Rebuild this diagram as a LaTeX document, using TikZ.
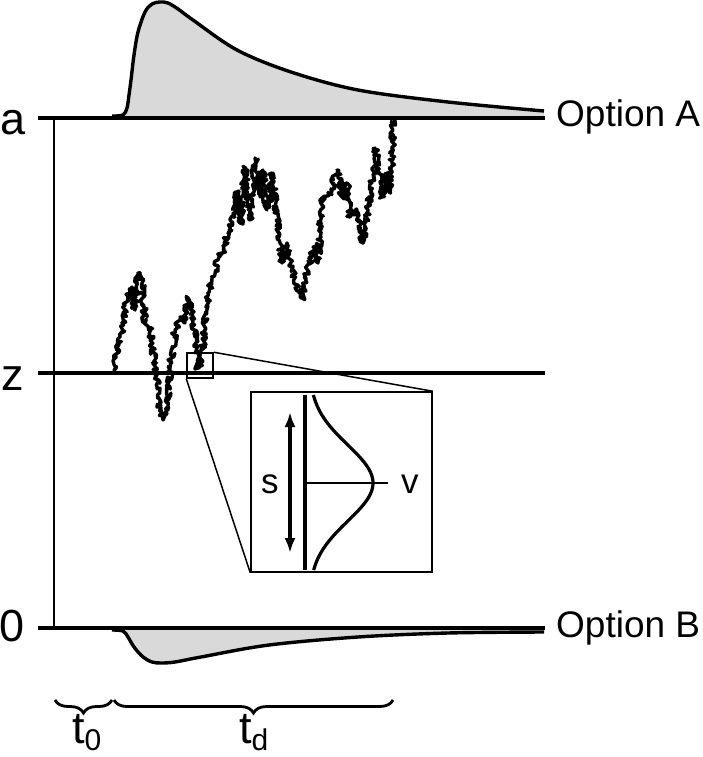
\documentclass[tikz,border=0pt]{standalone}
\usepackage{fontspec}
\setmainfont{Liberation Sans}
\usetikzlibrary{decorations.pathmorphing,decorations.pathreplacing,arrows.meta}
\begin{document}
\begin{tikzpicture}[x=1pt,y=-1pt,
  bound/.style={line width=3.4pt},
  axisv/.style={line width=2.3pt},
  dens/.style={line width=3.4pt, line join=round},
  densfill/.style={fill=gray!30},
  thinline/.style={line width=1.5pt},
  walk/.style={line width=3.4pt, line join=round, decorate,
    decoration={random steps, segment length=1.5pt, amplitude=3.2pt}},
  lbl/.style={font=\fontsize{45}{54}\selectfont, inner sep=0pt, anchor=base west},
  opt/.style={font=\fontsize{37}{44}\selectfont, inner sep=0pt, anchor=base west},
  small/.style={font=\fontsize{35}{42}\selectfont, inner sep=0pt, anchor=base west},
  bracestyle/.style={line width=2.8pt, decorate, decoration={brace, mirror, amplitude=13pt}},
  boxstyle/.style={draw, line width=1.5pt, inner sep=0pt}
]
\useasboundingbox (0,0) rectangle (702,757);
\pgfmathsetseed{11}

% coordinates
\coordinate (aL) at (38,118);
\coordinate (aR) at (545,118);
\coordinate (zL) at (38,373);
\coordinate (zR) at (545,373);
\coordinate (oL) at (38,628);
\coordinate (oR) at (545,628);
\coordinate (vT) at (54,118);
\coordinate (vB) at (54,628);

% top density
\fill[densfill] (112,118) -- plot[smooth, tension=0.55] coordinates {(112,116) (123,115) (127,108) (129,95) (131,80) (134,55) (138,32) (145,12) (152,4) (160,2) (168,3) (178,9) (193,20) (237,50) (291,72) (358,90) (448,102) (544,111)} -- (544,118) -- cycle;
\draw[dens] plot[smooth, tension=0.55] coordinates {(112,116) (123,115) (127,108) (129,95) (131,80) (134,55) (138,32) (145,12) (152,4) (160,2) (168,3) (178,9) (193,20) (237,50) (291,72) (358,90) (448,102) (544,111)};

% bottom density
\fill[densfill] (112,628) -- plot[smooth, tension=0.55] coordinates {(112,630) (123,631) (128,637) (134,647) (143,657) (152,662) (161,663) (175,662) (201,657) (269,645) (358,637) (448,633) (544,632)} -- (544,628) -- cycle;
\draw[dens] plot[smooth, tension=0.55] coordinates {(112,630) (123,631) (128,637) (134,647) (143,657) (152,662) (161,663) (175,662) (201,657) (269,645) (358,637) (448,633) (544,632)};

% boundaries
\draw[bound] (aL) -- (aR);
\draw[bound] (zL) -- (zR);
\draw[bound] (oL) -- (oR);
\draw[axisv] (vT) -- (vB);

% labels
\node[lbl] (la) at (0,135) {a};
\node[lbl] (lz) at (1,390) {z};
\node[lbl] (l0) at (-1,641) {0};
\node[opt] (optA) at (556,127) {Option A};
\node[opt] (optB) at (556,637) {Option B};

% random walk
\draw[walk] (114,373) -- (118,343) -- (122,333) -- (127,295) -- (132,287) -- (135,310) -- (138,273) -- (142,283) -- (145,323) -- (150,330) -- (155,363) -- (160,407) -- (163,420) -- (167,403) -- (170,370) -- (175,330) -- (180,317) -- (185,323) -- (188,298) -- (193,317) -- (198,368) -- (202,360) -- (205,320) -- (208,293) -- (213,277) -- (218,260) -- (223,250) -- (228,233) -- (233,213) -- (237,192) -- (240,223) -- (245,168) -- (250,220) -- (255,158) -- (260,197) -- (263,170) -- (267,210) -- (272,173) -- (277,220) -- (282,263) -- (287,243) -- (292,267) -- (297,287) -- (302,298) -- (307,273) -- (313,247) -- (318,263) -- (322,202) -- (330,193) -- (337,170) -- (342,197) -- (347,183) -- (350,217) -- (357,210) -- (363,243) -- (367,213) -- (372,183) -- (375,148) -- (382,197) -- (387,173) -- (390,193) -- (392,163) -- (393,130) -- (393,119);

% zoom box and inset
\node[boxstyle, minimum width=26pt, minimum height=25pt] (zoombox) at (200,365.5) {};
\node[boxstyle, minimum width=181pt, minimum height=180pt] (inset) at (341.5,482) {};
\draw[thinline] (zoombox.north east) -- (inset.north east);
\draw[thinline] (zoombox.south west) -- (inset.south west);

% inset content
\coordinate (ilT) at (305,395);
\coordinate (ilB) at (305,570);
\draw[line width=3.2pt] (ilT) -- (ilB);
\draw[line width=3.2pt, domain=-88:87, samples=80, smooth, variable=\t] plot ({309+64*exp(-((\t/38)^2)/2)}, {483+\t});
\coordinate (vm) at (305,483);
\coordinate (ve) at (388,483);
\draw[thinline] (vm) -- (ve);
\coordinate (sT) at (290,412);
\coordinate (sB) at (290,553);
\draw[line width=3.4pt, {Latex[length=15pt,width=11pt]}-{Latex[length=15pt,width=11pt]}] (sT) -- (sB);
\node[small] (ls) at (261,493) {s};
\node[small] (lv) at (401,493) {v};

% braces
\coordinate (b0L) at (55,700);
\coordinate (b0R) at (112,700);
\coordinate (bdL) at (114,700);
\coordinate (bdR) at (393,700);
\draw[bracestyle] (b0L) -- (b0R);
\draw[bracestyle] (bdL) -- (bdR);
\node[lbl] (t0) at (72,743) {t\raisebox{-7pt}{\fontsize{30}{30}\selectfont 0}};
\node[lbl] (td) at (239,743) {t\raisebox{-7pt}{\fontsize{30}{30}\selectfont d}};
\end{tikzpicture}
\end{document}
